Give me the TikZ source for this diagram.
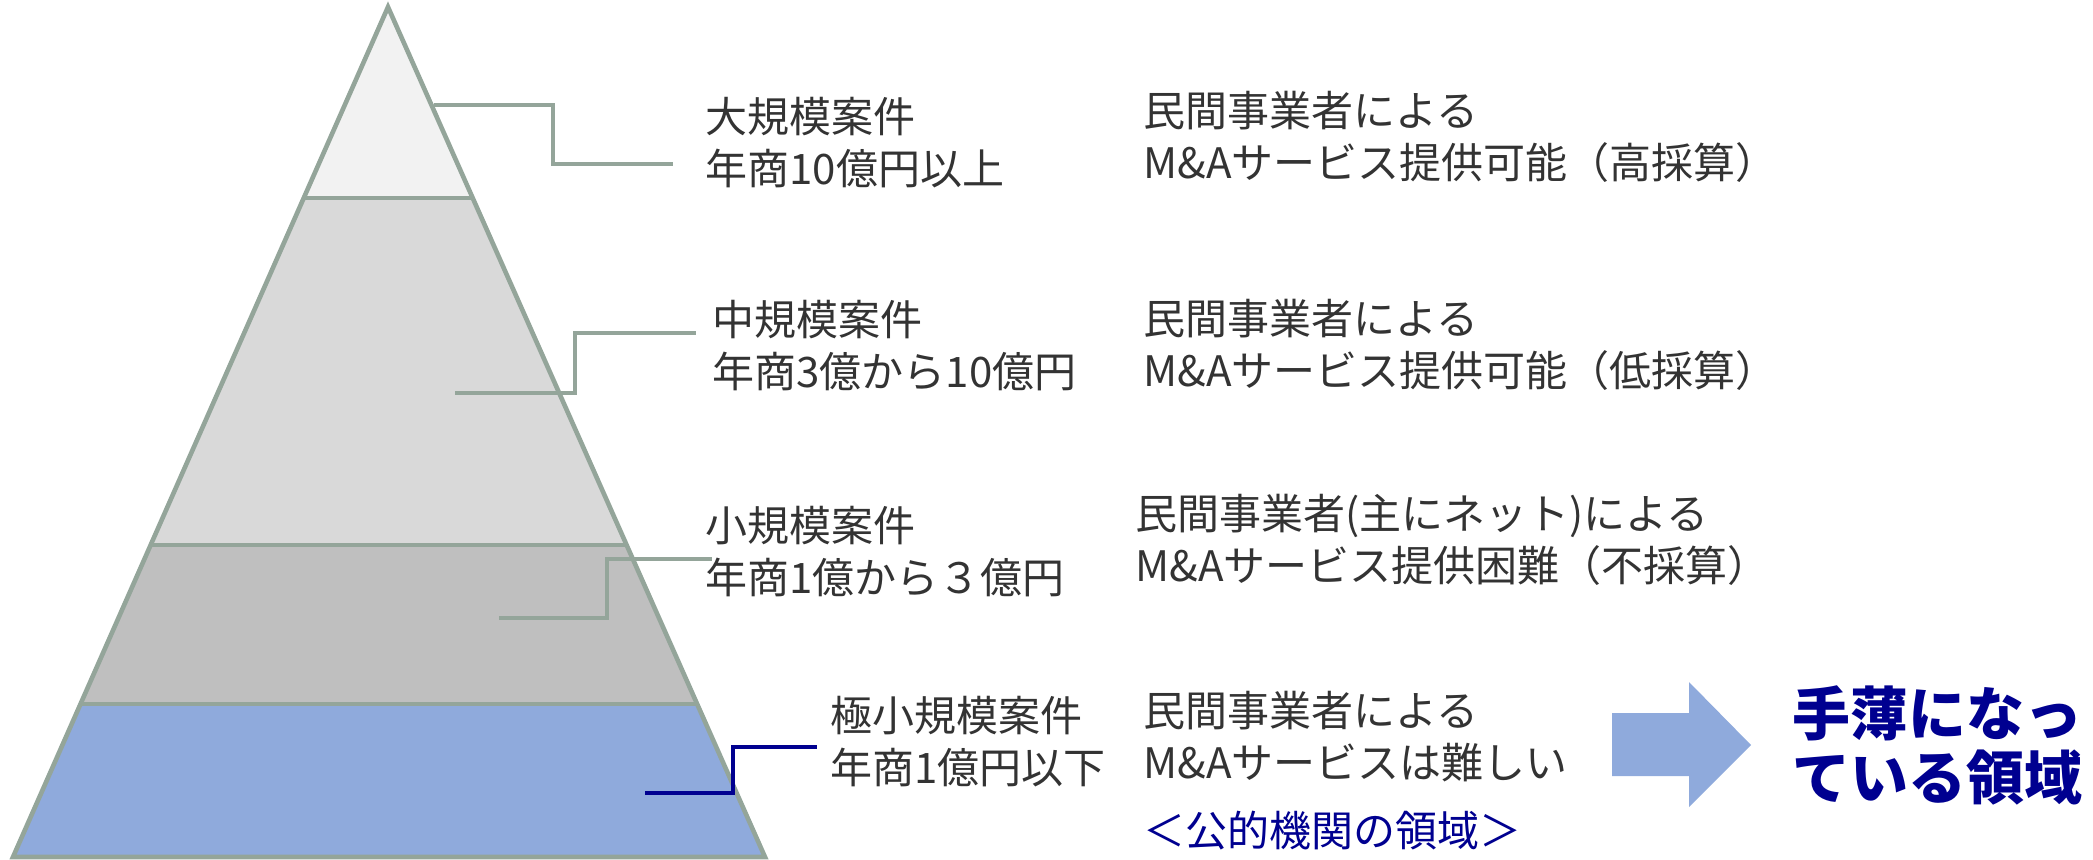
\documentclass[tikz,border=0pt]{standalone}
\usepackage{fontspec}
\setmainfont{Noto Sans CJK JP}
\usepackage{tikz}
\usetikzlibrary{calc}
\usepackage{xcolor}
\definecolor{pyrline}{HTML}{94A59A}
\definecolor{navyblue}{HTML}{000090}
\definecolor{layerA}{HTML}{F2F2F2}
\definecolor{layerB}{HTML}{D9D9D9}
\definecolor{layerC}{HTML}{BFBFBF}
\definecolor{layerD}{HTML}{8FAADC}
\definecolor{textgray}{HTML}{333333}
\newcommand{\Snavy}[1]{\textcolor{navyblue}{#1}}
\tikzset{lbl/.style={anchor=west,align=left,inner sep=0pt,text=textgray,font=\fontsize{21}{26}\selectfont}}
\tikzset{pyr/.style={draw=pyrline,line width=2.3pt}}

\begin{document}
\begin{tikzpicture}[x=0.5pt,y=-0.5pt]
\useasboundingbox (0,0) rectangle (2093,859);
% \draw[help lines] (0,0) grid (2093,859);
\coordinate (top) at (388,7);
\coordinate (bl) at (13,857);
\coordinate (br) at (765,857);
\coordinate (a1) at ($(top)!0.2247!(bl)$);
\coordinate (b1) at ($(top)!0.2247!(br)$);
\coordinate (a2) at ($(top)!0.6329!(bl)$);
\coordinate (b2) at ($(top)!0.6329!(br)$);
\coordinate (a3) at ($(top)!0.82!(bl)$);
\coordinate (b3) at ($(top)!0.82!(br)$);
%
\fill[layerA] (top) -- (b1) -- (a1) -- cycle;
\fill[layerB] (a1) -- (b1) -- (b2) -- (a2) -- cycle;
\fill[layerC] (a2) -- (b2) -- (b3) -- (a3) -- cycle;
\fill[layerD] (a3) -- (b3) -- (br) -- (bl) -- cycle;
\draw[pyr] (top) -- (bl) -- (br) -- cycle;
\draw[pyr] (a1) -- (b1);
\draw[pyr] (a2) -- (b2);
\draw[pyr] (a3) -- (b3);
%
\node (t1) [lbl] at (705,143) {大規模案件\\年商10億円以上};
\node (t2) [lbl] at (712,346) {中規模案件\\年商3億から10億円};
\node (t3) [lbl] at (705,552) {小規模案件\\年商1億から３億円};
\node (t4) [lbl] at (830,742) {極小規模案件\\年商1億円以下};
%
\node (r1) [lbl] at (1143,137) {民間事業者による\\M\&Aサービス提供可能（高採算）};
\node (r2) [lbl] at (1143,345) {民間事業者による\\M\&Aサービス提供可能（低採算）};
\node (r3) [lbl] at (1135,540) {民間事業者(主にネット)による\\M\&Aサービス提供困難（不採算）};
\node (r4) [lbl] at (1143,737) {民間事業者による\\M\&Aサービスは難しい};
\node (r5) [lbl] at (1143,831) {\Snavy{＜公的機関の領域＞}};
\node (gap) [lbl,text=navyblue,font=\fontsize{29}{32}\selectfont\bfseries] at (1792,745) {手薄になっ\\ている領域};
%
\coordinate (c1) at (434,105);
\coordinate (c1m) at (553,164);
\coordinate (c1e) at (673,164);
\coordinate (c2) at (455,393);
\coordinate (c2m) at (575,333);
\coordinate (c2e) at (696,333);
\coordinate (c3) at (499,618);
\coordinate (c3m) at (607,559);
\coordinate (c3e) at (712,559);
\coordinate (c4) at (645,793);
\coordinate (c4m) at (733,747);
\coordinate (c4e) at (817,747);
\draw[pyrline,line width=2.3pt] (c1) -| (c1m) -- (c1e);
\draw[pyrline,line width=2.3pt] (c2) -| (c2m) -- (c2e);
\draw[pyrline,line width=2.3pt] (c3) -| (c3m) -- (c3e);
\draw[navyblue,line width=2.3pt] (c4) -| (c4m) -- (c4e);
%
\fill[layerD] (1612,713) -- (1689,713) -- (1689,682) -- (1751,745) -- (1689,807) -- (1689,776) -- (1612,776) -- cycle;
\end{tikzpicture}
\end{document}
